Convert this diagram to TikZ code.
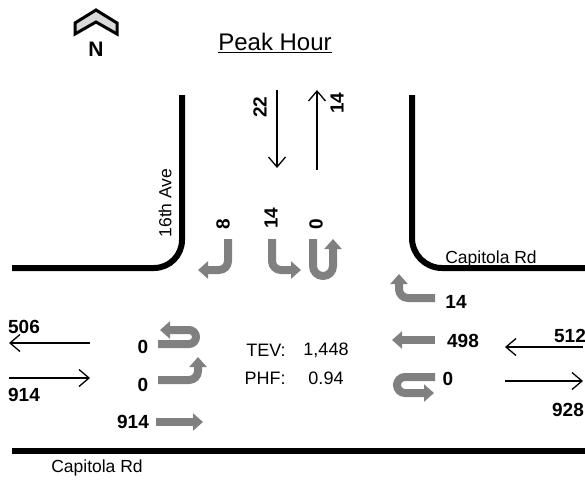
\documentclass[tikz,border=0pt]{standalone}
\usepackage{fontspec}
\setmainfont{Liberation Sans}
\usepackage{tikz}
\usetikzlibrary{arrows.meta}

\begin{document}
\begin{tikzpicture}[x=1pt,y=-1pt,
            road/.style={line width=6pt, black},
            mv/.style={draw=black!50, line width=8pt, rounded corners=9pt, -{Triangle[width=17pt,length=10pt]}},
            flow/.style={line width=1.3pt, -{Straight Barb[length=10pt,width=17pt]}},
            vol/.style={font=\fontsize{19}{21}\selectfont\bfseries},
            lbl/.style={font=\fontsize{17.5}{19}\selectfont}]

            \useasboundingbox (0,0) rectangle (585,480);

            % North arrow and title
            \draw[fill=black!15, line width=3pt, line join=miter] (75,23) -- (96,10) -- (117,23) -- (117,34) -- (96,22) -- (75,34) -- cycle;
            \node[font=\fontsize{21}{23}\selectfont\bfseries] (north) at (96,49) {N};
            \node[font=\fontsize{24}{26}\selectfont] (title) at (275,43) {\underline{Peak Hour}};

            % Roads
            \draw[road, rounded corners=28pt] (182,95) |- (12,268);
            \draw[road, rounded corners=30pt] (412,95) |- (585,268);
            \draw[road] (12,451) -- (585,451);
            \node[lbl, rotate=90] (ave) at (165,203) {16th Ave};
            \node[lbl] (rdeast) at (491,259) {Capitola Rd};
            \node[lbl] (rdsouth) at (97,468) {Capitola Rd};

            % Approach and departure volumes
            \draw[flow] (277,90) -- (277,168);
            \draw[flow] (317,170) -- (317,90);
            \node[vol, rotate=90] (sbin) at (260,107) {22};
            \node[vol, rotate=90] (sbout) at (337,103) {14};

            \draw[flow] (90,343) -- (9,343);
            \draw[flow] (9,378) -- (90,378);
            \node[vol] (wbout) at (24,327) {506};
            \node[vol] (ebin) at (24,395) {914};

            \draw[flow] (583,347) -- (505,347);
            \draw[flow] (505,381) -- (583,381);
            \node[vol] (wbin) at (570,336) {512};
            \node[vol] (ebout) at (568,410) {928};

            % Southbound movements
            \draw[mv] (228,239) -- (228,270) -- (198,270);
            \draw[mv] (272,239) -- (272,270) -- (301,270);
            \draw[mv, rounded corners=10pt] (313,239) -- (313,276) -- (333,276) -- (333,239);
            \node[vol, rotate=90] (sbr) at (223,224) {8};
            \node[vol, rotate=90] (sbl) at (271,218) {14};
            \node[vol, rotate=90] (sbu) at (316,224) {0};

            % Eastbound movements
            \draw[mv, rounded corners=7pt] (158,344) -- (196,344) -- (196,330) -- (160,330);
            \draw[mv] (158,380) -- (198,380) -- (198,357);
            \draw[mv] (156,422) -- (203,422);
            \node[vol] (ebu) at (143,347) {0};
            \node[vol] (ebl) at (143,385) {0};
            \node[vol] (ebt) at (133,422) {914};

            % Westbound movements
            \draw[mv] (435,298) -- (399,298) -- (399,274);
            \draw[mv] (435,340) -- (392,340);
            \draw[mv, rounded corners=8pt] (435,377) -- (397,377) -- (397,393) -- (434,393);
            \node[vol] (wbr) at (456,302) {14};
            \node[vol] (wbt) at (463,341) {498};
            \node[vol] (wbu) at (448,379) {0};

            % Totals
            \node[lbl, font=\fontsize{18}{20}\selectfont] (tev) at (266,350) {TEV:};
            \node[lbl, font=\fontsize{18}{20}\selectfont] (tevval) at (326,350) {1,448};
            \node[lbl, font=\fontsize{18}{20}\selectfont] (phf) at (265,378) {PHF:};
            \node[lbl, font=\fontsize{18}{20}\selectfont] (phfval) at (326,378) {0.94};
        \end{tikzpicture}
\end{document}
